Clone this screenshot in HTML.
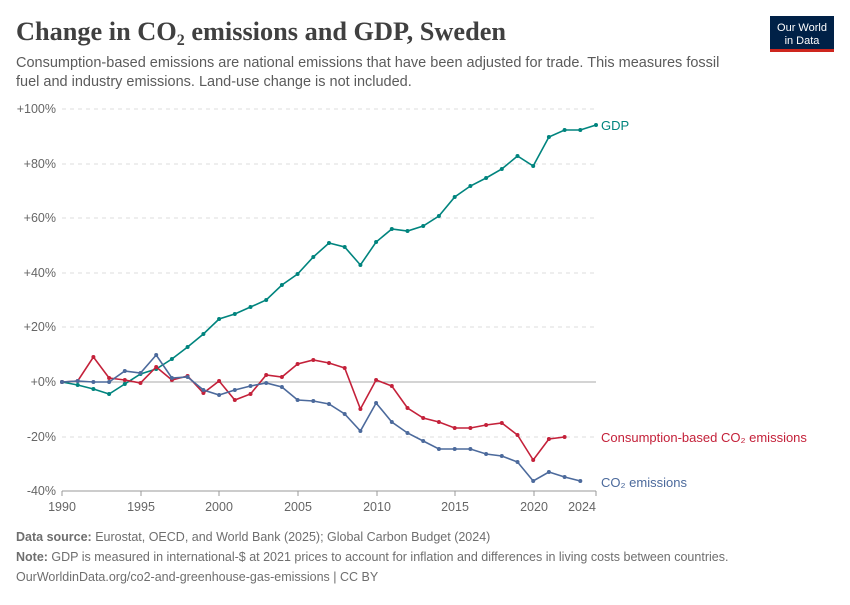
<!DOCTYPE html>
<html><head><meta charset="utf-8"><style>
body{margin:0;background:#fff;font-family:"Liberation Sans",sans-serif;}
</style></head><body>
<svg width="850" height="600" xmlns="http://www.w3.org/2000/svg" font-family="Liberation Sans, sans-serif">
<defs>
<marker id="mg" markerWidth="6" markerHeight="6" refX="3" refY="3" markerUnits="userSpaceOnUse"><circle cx="3" cy="3" r="2" fill="#00847e"/></marker>
<marker id="mr" markerWidth="6" markerHeight="6" refX="3" refY="3" markerUnits="userSpaceOnUse"><circle cx="3" cy="3" r="2" fill="#c4213a"/></marker>
<marker id="mb" markerWidth="6" markerHeight="6" refX="3" refY="3" markerUnits="userSpaceOnUse"><circle cx="3" cy="3" r="2" fill="#4c6a9c"/></marker>
</defs>
<rect width="850" height="600" fill="#fff"/>
<text x="16" y="40" font-family="Liberation Serif, serif" font-weight="bold" font-size="26.3" fill="#404040">Change in CO<tspan font-size="16" dy="5">2</tspan><tspan dy="-5"> emissions and GDP, Sweden</tspan></text>
<text x="16" y="67" font-size="14.5" fill="#5b5b5b">Consumption-based emissions are national emissions that have been adjusted for trade. This measures fossil</text>
<text x="16" y="86" font-size="14.5" fill="#5b5b5b">fuel and industry emissions. Land-use change is not included.</text>
<rect x="770" y="16" width="64" height="36" fill="#002147"/>
<rect x="770" y="49" width="64" height="3" fill="#ce261e"/>
<text x="802" y="31" font-size="11" fill="#fff" text-anchor="middle">Our World</text>
<text x="802" y="44" font-size="11" fill="#fff" text-anchor="middle">in Data</text>
<g stroke="#ddd" stroke-dasharray="4,4">
<line x1="62" x2="596" y1="109" y2="109"/><line x1="62" x2="596" y1="164" y2="164"/><line x1="62" x2="596" y1="218" y2="218"/><line x1="62" x2="596" y1="273" y2="273"/><line x1="62" x2="596" y1="327" y2="327"/><line x1="62" x2="596" y1="437" y2="437"/>
</g>
<line x1="62" x2="596" y1="382" y2="382" stroke="#aaa"/>
<g font-size="12.5" fill="#666" text-anchor="end">
<text x="56" y="113">+100%</text><text x="56" y="168">+80%</text><text x="56" y="222">+60%</text><text x="56" y="277">+40%</text><text x="56" y="331">+20%</text><text x="56" y="386">+0%</text><text x="56" y="441">-20%</text><text x="56" y="495">-40%</text>
</g>
<line x1="62" x2="596" y1="491" y2="491" stroke="#999"/>
<g stroke="#999"><line x1="62" x2="62" y1="491" y2="496"/><line x1="141" x2="141" y1="491" y2="496"/><line x1="219" x2="219" y1="491" y2="496"/><line x1="298" x2="298" y1="491" y2="496"/><line x1="377" x2="377" y1="491" y2="496"/><line x1="455" x2="455" y1="491" y2="496"/><line x1="534" x2="534" y1="491" y2="496"/><line x1="596" x2="596" y1="491" y2="496"/></g>
<g font-size="12.5" fill="#666" text-anchor="middle">
<text x="62" y="511">1990</text><text x="141" y="511">1995</text><text x="219" y="511">2000</text><text x="298" y="511">2005</text><text x="377" y="511">2010</text><text x="455" y="511">2015</text><text x="534" y="511">2020</text><text x="582" y="511">2024</text>
</g>
<polyline fill="none" stroke="#00847e" stroke-width="1.6" marker-start="url(#mg)" marker-mid="url(#mg)" marker-end="url(#mg)" points="62,382 77.7,385 93.4,389 109.1,394 124.8,384 140.5,374 156.2,369 171.9,359 187.6,347 203.4,334 219.1,319 234.8,314 250.5,307 266.2,300 281.9,285 297.6,274 313.3,257 329,243 344.7,247 360.4,265 376.1,242 391.8,229 407.5,231 423.2,226 438.9,216 454.7,197 470.4,186 486.1,178 501.8,169 517.5,156 533.2,166 548.9,137 564.6,130 580.3,130 596,125"/>
<polyline fill="none" stroke="#c4213a" stroke-width="1.6" marker-start="url(#mr)" marker-mid="url(#mr)" marker-end="url(#mr)" points="62,382 77.7,381 93.4,357 109.1,378 124.8,380 140.5,383 156.2,367 171.9,380 187.6,376 203.4,393 219.1,381 234.8,400 250.5,394 266.2,375 281.9,377 297.6,364 313.3,360 329,363 344.7,368 360.4,409 376.1,380 391.8,386 407.5,408 423.2,418 438.9,422 454.7,428 470.4,428 486.1,425 501.8,423 517.5,435 533.2,460 548.9,439 564.6,437"/>
<polyline fill="none" stroke="#4c6a9c" stroke-width="1.6" marker-start="url(#mb)" marker-mid="url(#mb)" marker-end="url(#mb)" points="62,382 77.7,381 93.4,382 109.1,382 124.8,371 140.5,373 156.2,355 171.9,378 187.6,377 203.4,390 219.1,395 234.8,390 250.5,386 266.2,383 281.9,387 297.6,400 313.3,401 329,404 344.7,414 360.4,431 376.1,403 391.8,422 407.5,433 423.2,441 438.9,449 454.7,449 470.4,449 486.1,454 501.8,456 517.5,462 533.2,481 548.9,472 564.6,477 580.3,481"/>
<text x="601" y="130" font-size="13" fill="#00847e">GDP</text>
<text x="601" y="442" font-size="13" fill="#c4213a">Consumption-based CO₂ emissions</text>
<text x="601" y="487" font-size="13" fill="#4c6a9c">CO₂ emissions</text>
<text x="16" y="541" font-size="12.5" fill="#6e6e6e"><tspan font-weight="bold">Data source:</tspan> Eurostat, OECD, and World Bank (2025); Global Carbon Budget (2024)</text>
<text x="16" y="561" font-size="12.5" fill="#6e6e6e"><tspan font-weight="bold">Note:</tspan> GDP is measured in international-$ at 2021 prices to account for inflation and differences in living costs between countries.</text>
<text x="16" y="581" font-size="12.5" fill="#6e6e6e">OurWorldinData.org/co2-and-greenhouse-gas-emissions | CC BY</text>
</svg>
</body></html>
